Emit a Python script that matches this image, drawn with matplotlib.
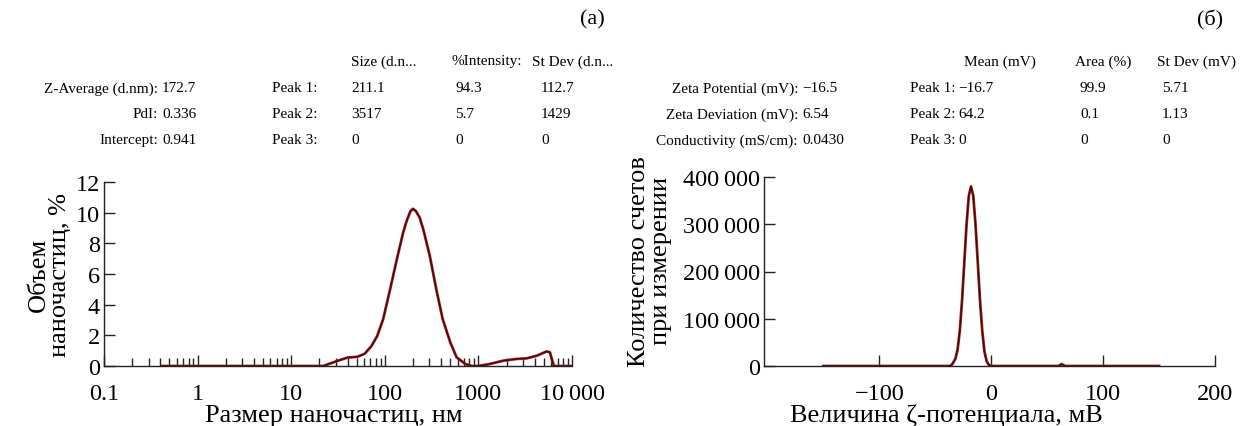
import numpy as np
import matplotlib
matplotlib.use('Agg')
import matplotlib.pyplot as plt
from matplotlib.ticker import LogLocator, FixedLocator, NullFormatter

plt.rcParams['font.family'] = ['Liberation Serif', 'DejaVu Serif']
plt.rcParams['axes.unicode_minus'] = True

# (a) particle size distribution by volume
size_nm = [0.42, 1, 10, 22, 31, 40, 51, 61, 72, 83, 96, 112, 135, 157, 172, 188, 200,
           215, 235, 257, 302, 355, 415, 500, 585, 725, 850, 1000, 1320, 1850, 2580,
           3300, 4200, 5350, 5800, 6400, 10000]
volume_pct = [0, 0, 0, 0, 0.33, 0.55, 0.6, 0.8, 1.3, 1.96, 3.05, 4.8, 7.0, 8.7,
              9.5, 10.1, 10.25, 10.1, 9.7, 8.94, 7.2, 5.0, 3.07, 1.55, 0.57, 0.13,
              0, 0, 0.13, 0.35, 0.46, 0.5, 0.67, 0.95, 0.9, 0, 0]

# (б) zeta potential distribution
zeta_mv = [-150, -40, -37, -35, -32, -30, -28, -26, -24, -22, -20, -18, -16, -14,
           -12, -10, -8, -6, -4, -2, 0, 60, 63, 66, 150]
counts = [0, 0, 0, 3000, 15000, 35000, 75000, 140000, 220000, 300000, 360000,
          380000, 360000, 300000, 220000, 140000, 75000, 30000, 10000, 2000, 0, 0,
          4000, 0, 0]

left_table = [("Z-Average (d.nm):", "172.7"), ("PdI:", "0.336"), ("Intercept:", "0.941")]
left_head = ["Size (d.n...", "%Intensity:", "St Dev (d.n..."]
left_peaks = [["211.1", "94.3", "112.7"], ["3517", "5.7", "1429"], ["0", "0", "0"]]

right_table = [("Zeta Potential (mV):", "\u221216.5"), ("Zeta Deviation (mV):", "6.54"),
               ("Conductivity (mS/cm):", "0.0430")]
right_head = ["Mean (mV)", "Area (%)", "St Dev (mV)"]
right_peaks = [["\u221216.7", "99.9", "5.71"], ["64.2", "0.1", "1.13"], ["0", "0", "0"]]

W, H = 1243, 427
fig = plt.figure(figsize=(W / 100, H / 100), dpi=100)


def px(x, y):
    return x / W, 1 - y / H


def txt(x, y, s, ha='left', size=11):
    fig.text(*px(x, y), s, ha=ha, va='center', fontsize=size)


# tables
rows_y = [89, 115, 141]
head_y = 62
for (lab, val), peaks, yy, k in zip(left_table, left_peaks, rows_y, range(3)):
    txt(158, yy, lab, ha='right')
    txt(162, yy, val)
    txt(272, yy, "Peak %d:" % (k + 1))
    for xx, v in zip([351, 455, 541], peaks):
        txt(xx, yy, v)
for xx, h in zip([351, 452, 532], left_head):
    txt(xx, head_y, h)
txt(592, 20, "(a)", ha='center', size=16)

for (lab, val), peaks, yy, k in zip(right_table, right_peaks, rows_y, range(3)):
    txt(798, yy, lab, ha='right')
    txt(802, yy, val)
    txt(910, yy, "Peak %d:" % (k + 1))
    for xx, v in zip([958, 1080, 1162], peaks):
        txt(xx, yy, v)
for xx, h in zip([964, 1075, 1157], right_head):
    txt(xx, head_y, h)
txt(1210, 20, "(\u0431)", ha='center', size=16)

# left axes
ax1 = fig.add_axes([104 / W, 1 - 367 / H, (572 - 104) / W, (367 - 183) / H])
ax1.plot(size_nm, volume_pct, color='#b02020', lw=2.0)
ax1.plot(size_nm, volume_pct, color='#3a0c0c', lw=1.0)
ax1.set_xscale('log')
ax1.set_xlim(0.1, 10000)
ax1.set_ylim(0, 12)
ax1.set_yticks([0, 2, 4, 6, 8, 10, 12])
ax1.xaxis.set_major_locator(FixedLocator([0.1, 1, 10, 100, 1000, 10000]))
ax1.set_xticklabels(['0.1', '1', '10', '100', '1000', '10\u2009000'])
ax1.xaxis.set_minor_locator(LogLocator(base=10, subs=np.arange(2, 10)))
ax1.xaxis.set_minor_formatter(NullFormatter())
ax1.set_xlabel('Размер наночастиц, нм', fontsize=19)
ax1.xaxis.set_label_coords(0.49, -0.205)
ax1.set_ylabel('Объем\nнаночастиц, %', fontsize=19, linespacing=0.95)
ax1.yaxis.set_label_coords(-0.07, 0.5)

# right axes
ax2 = fig.add_axes([764 / W, 1 - 367 / H, (1215 - 764) / W, (367 - 178) / H])
ax2.plot(zeta_mv, counts, color='#b02020', lw=2.0)
ax2.plot(zeta_mv, counts, color='#3a0c0c', lw=1.0)
ax2.set_xlim(-203, 200)
ax2.set_ylim(0, 400000)
ax2.set_xticks([-100, 0, 100, 200])
ax2.set_yticks([0, 100000, 200000, 300000, 400000])
ax2.set_yticklabels(['0', '100\u2009000', '200\u2009000', '300\u2009000', '400\u2009000'])
ax2.set_xlabel('Величина ζ-потенциала, мВ', fontsize=19)
ax2.xaxis.set_label_coords(0.404, -0.2)
ax2.set_ylabel('Количество счетов\nпри измерении', fontsize=19, linespacing=0.95)
ax2.yaxis.set_label_coords(-0.205, 0.56)

for ax in (ax1, ax2):
    ax.spines['top'].set_visible(False)
    ax.spines['right'].set_visible(False)
    for s in ax.spines.values():
        s.set_linewidth(1.0)
        s.set_color('#222222')
    ax.tick_params(which='major', direction='in', length=8, width=1.0,
                   labelsize=17.5, colors='#222222', labelcolor='black')
    ax.tick_params(which='minor', direction='in', length=6, width=1.0, colors='#222222')
    ax.tick_params(axis='x', pad=12)
    ax.tick_params(axis='y', pad=3)

fig.savefig('out.png', dpi=100)
